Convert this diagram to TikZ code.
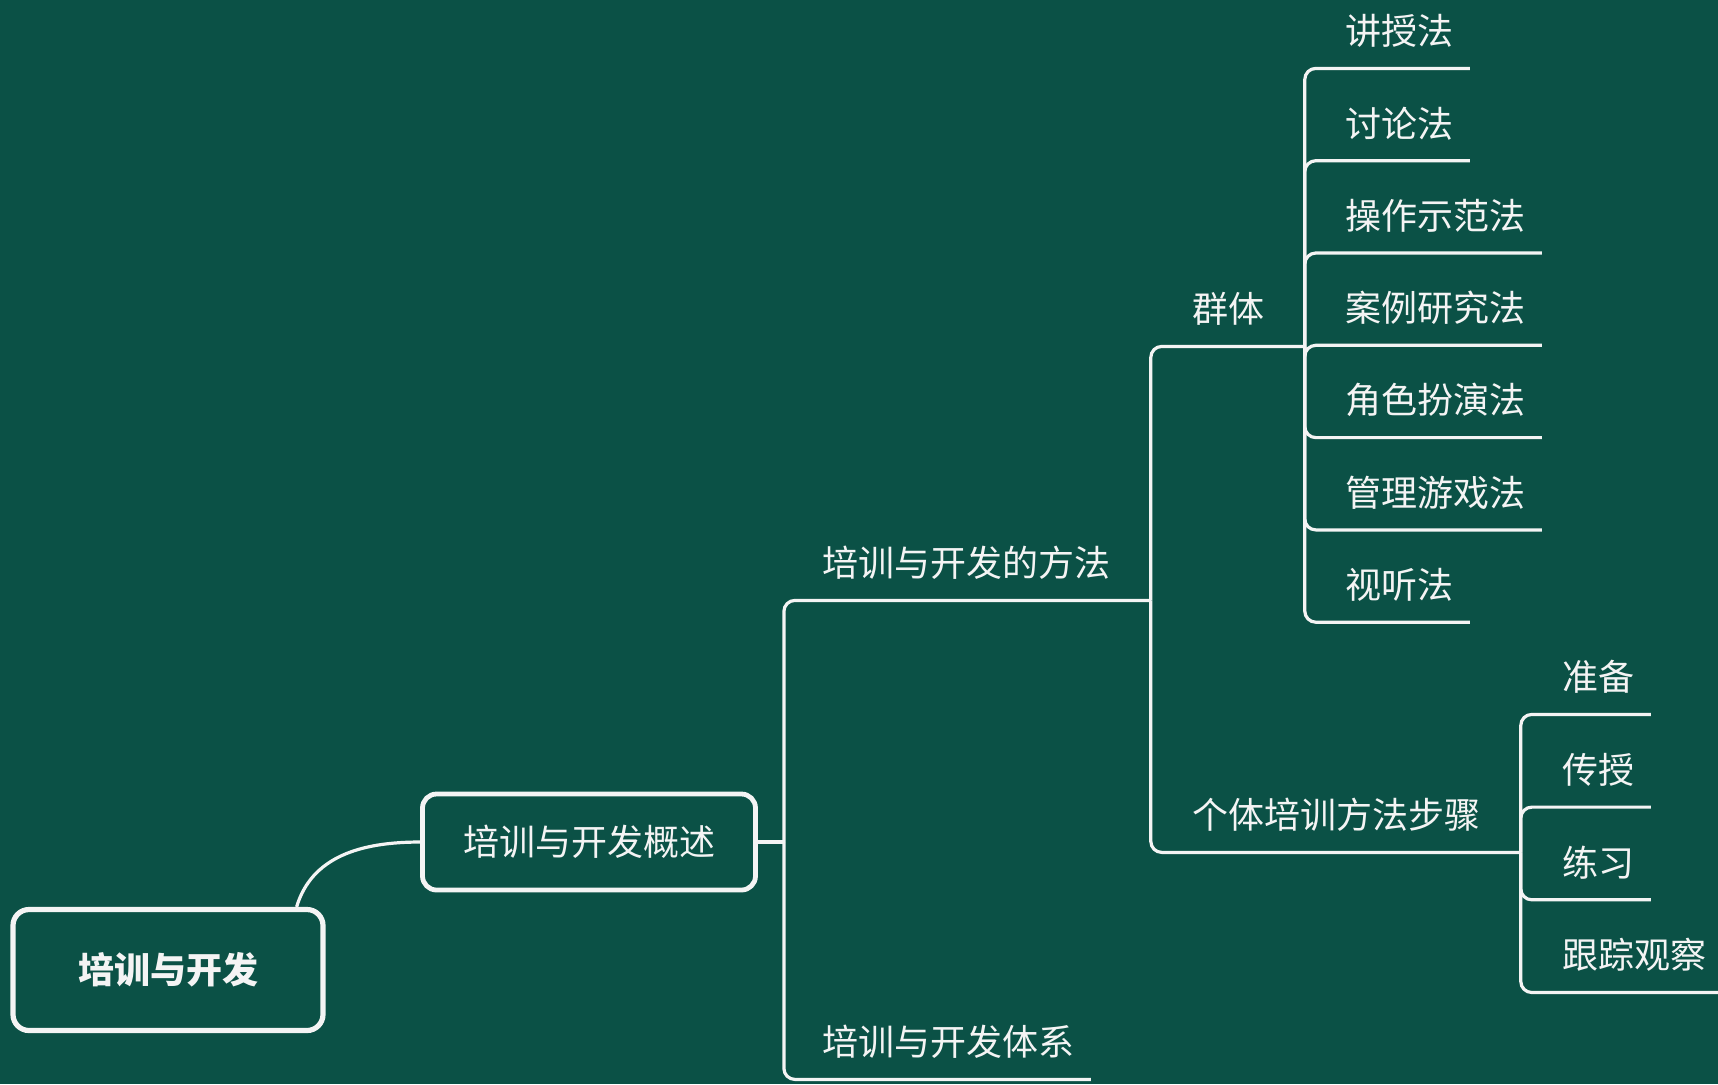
\documentclass[tikz,border=0pt]{standalone}
\usepackage{fontspec}
\newfontfamily\cjk{Noto Sans CJK SC}
\usepackage{tikz}
\usetikzlibrary{positioning}

\definecolor{board}{HTML}{0B5146}
\definecolor{chalk}{HTML}{F4F4F4}

\tikzset{
  topic/.style={text=chalk, font=\cjk\fontsize{18pt}{20pt}\selectfont, inner xsep=0pt, inner ysep=0pt, minimum height=37pt, anchor=west},
  rootbox/.style={draw=chalk, line width=2.6pt, rounded corners=8pt, text=chalk, font=\cjk\bfseries\fontsize{18pt}{20pt}\selectfont, minimum width=155pt, minimum height=60.5pt},
  sumbox/.style={draw=chalk, line width=2.4pt, rounded corners=7pt, text=chalk, font=\cjk\fontsize{18pt}{20pt}\selectfont, minimum width=166.5pt, minimum height=48pt},
  link/.style={draw=chalk, line width=1.6pt, rounded corners=5.5pt},
}

\begin{document}
\begin{tikzpicture}[x=0.5pt,y=-0.5pt]
  \useasboundingbox (0,0) rectangle (1718,1084);
  \fill[board] (0,0) rectangle (1718,1084);

  \node[rootbox] (root) at (168,970) {培训与开发};
  \node[sumbox] (sum) at (589,842) {培训与开发概述};
  \node[topic] (meth) at (822,563) {培训与开发的方法};
  \node[topic] (sys) at (822,1042) {培训与开发体系};
  \node[topic] (grp) at (1192,309) {群体};
  \node[topic] (ind) at (1192,815) {个体培训方法步骤};
  \foreach \t [count=\i from 0] in {讲授法,讨论法,操作示范法,案例研究法,角色扮演法,管理游戏法,视听法}
    \node[topic] (g\i) at (1345,31+92.3*\i) {\t};
  \foreach \t [count=\i from 0] in {准备,传授,练习,跟踪观察}
    \node[topic] (s\i) at (1562,677+92.7*\i) {\t};

  % junctions
  \coordinate (j1) at ([xshift=13pt]sum.east);
  \coordinate (j2) at ([xshift=20pt]meth.south east);
  \coordinate (j3) at ([xshift=20pt]grp.south east);
  \coordinate (j4) at ([xshift=20pt]ind.south east);

  \draw[link] ([xshift=-14.5pt]root.north east) .. controls +(15,-50) and +(-60,0) .. (sum.west);
  \draw[link] (sum.east) -- (j1);
  \draw[link] (j1) |- (j2);
  \draw[link] (j1) |- ([xshift=8pt]sys.south east);
  \draw[link] (j2) |- (j3);
  \draw[link] (j2) |- (j4);
  \foreach \i in {0,...,6}
    \draw[link] (j3) |- ([xshift=8pt]g\i.south east);
  \foreach \i in {0,...,3}
    \draw[link] (j4) |- ([xshift=8pt]s\i.south east);
\end{tikzpicture}
\end{document}
